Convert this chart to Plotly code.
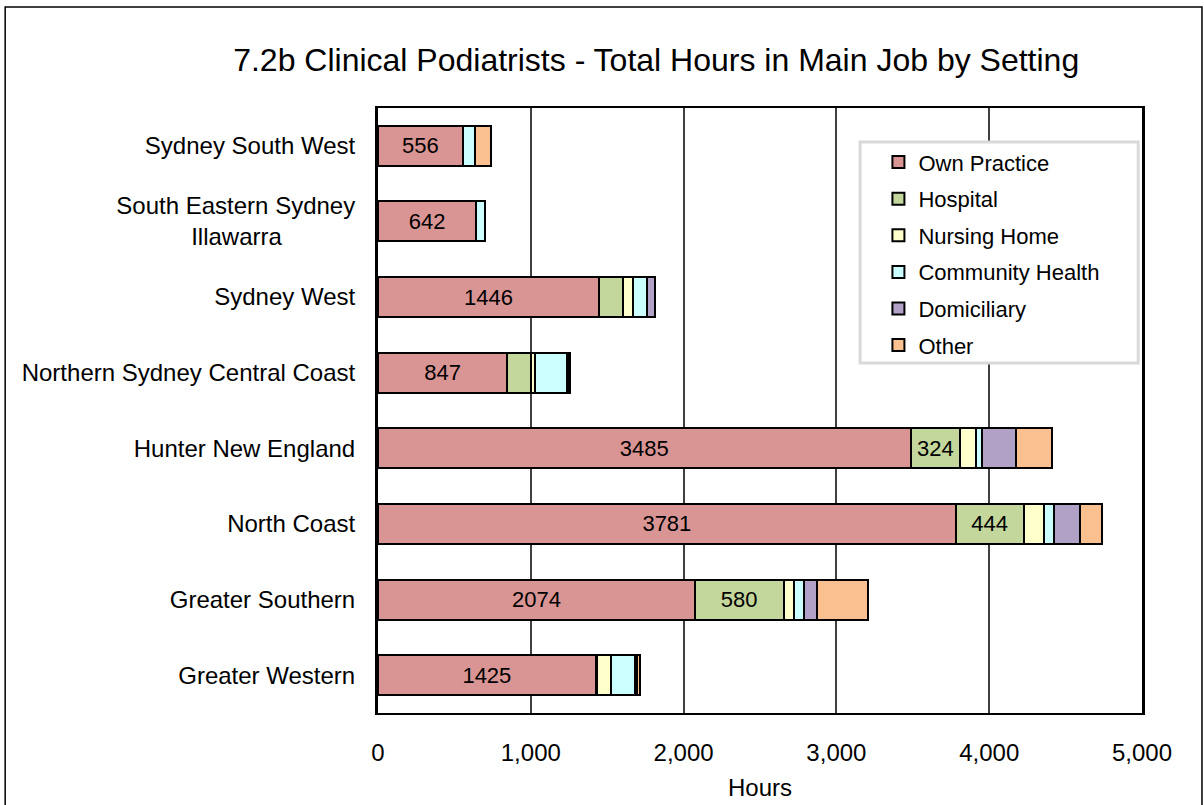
import plotly.graph_objects as go

regions = [
    "Sydney South West",
    "South Eastern Sydney<br>Illawarra" + "&nbsp;" * 11,
    "Sydney West",
    "Northern Sydney Central Coast",
    "Hunter New England",
    "North Coast",
    "Greater Southern",
    "Greater Western",
]

own_practice = [556, 642, 1446, 847, 3485, 3781, 2074, 1425]
hospital = [0, 0, 158, 153, 324, 444, 580, 8]
nursing_home = [0, 0, 67, 29, 103, 131, 68, 92]
community_health = [77, 56, 92, 211, 39, 66, 65, 159]
domiciliary = [0, 0, 48, 10, 223, 170, 87, 12]
other = [108, 0, 0, 5, 236, 149, 335, 20]

x_ticks = [0, 1000, 2000, 3000, 4000, 5000]
x_tick_text = ["0", "1,000", "2,000", "3,000", "4,000", "5,000"]

series = [
    ("Own Practice", own_practice, "#d99594"),
    ("Hospital", hospital, "#c3d69b"),
    ("Nursing Home", nursing_home, "#ffffcc"),
    ("Community Health", community_health, "#ccffff"),
    ("Domiciliary", domiciliary, "#b2a1c7"),
    ("Other", other, "#fac090"),
]

FONT = "Liberation Sans, Arial, sans-serif"

fig = go.Figure()
for name, vals, color in series:
    if name == "Own Practice":
        labels = [str(v) for v in vals]
    elif name == "Hospital":
        labels = [str(v) if v >= 300 else "" for v in vals]
    else:
        labels = None
    fig.add_trace(go.Bar(
        y=regions, x=vals, name=name, orientation="h",
        marker=dict(color=color, line=dict(color="black", width=2)),
        text=labels, textposition="inside" if labels else "none",
        insidetextanchor="middle", textangle=0,
        textfont=dict(size=22, color="black", family=FONT),
        constraintext="none",
        legendgroup=name, hoverinfo="skip",
    ))

fig.update_layout(
    width=1204, height=805,
    barmode="stack", bargap=0.47,
    plot_bgcolor="white", paper_bgcolor="white",
    margin=dict(l=378, r=62, t=108, b=92),
    font=dict(family=FONT, color="black", size=22),
    title=dict(
        text="7.2b Clinical Podiatrists - Total Hours in Main Job by Setting",
        x=0.545, xref="container", xanchor="center",
        y=0.926, yref="container", yanchor="middle",
        font=dict(size=32, family=FONT, color="black"),
    ),
    legend=dict(
        x=0.655, y=0.945, xanchor="left", yanchor="top",
        bgcolor="rgba(0,0,0,0)", borderwidth=0,
        traceorder="grouped", tracegroupgap=5,
        font=dict(size=22, family=FONT, color="black"),
    ),
    showlegend=True,
)

fig.update_xaxes(
    range=[0, 5000], tickvals=x_ticks, ticktext=x_tick_text,
    showgrid=True, gridcolor="#404040", gridwidth=1.5,
    showline=True, linecolor="black", linewidth=2, mirror=True,
    ticks="", ticklabelstandoff=17, zeroline=False, automargin=False,
    tickfont=dict(size=24),
    title=dict(text="Hours", font=dict(size=24), standoff=14),
)
fig.update_yaxes(
    autorange="reversed",
    showgrid=False, showline=True, linecolor="black", linewidth=3, mirror=True,
    ticks="", ticklabelstandoff=15, automargin=False,
    tickfont=dict(size=24),
)

# legend frame
fig.add_shape(type="rect", xref="paper", yref="paper",
              x0=0.631, x1=0.995, y0=0.5785, y1=0.9438,
              fillcolor="white", line=dict(color="#d9d9d9", width=3),
              layer="above")
# outer chart frame (bottom edge runs off the page, as in the original)
fig.add_shape(type="rect", xref="paper", yref="paper",
              x0=-0.488, x1=1.0785, y0=-0.2, y1=1.167,
              fillcolor="rgba(0,0,0,0)", line=dict(color="black", width=1.5),
              layer="above")

fig.write_html("out.html", config={"displayModeBar": False},
               post_script="document.body.style.margin='0px';")
